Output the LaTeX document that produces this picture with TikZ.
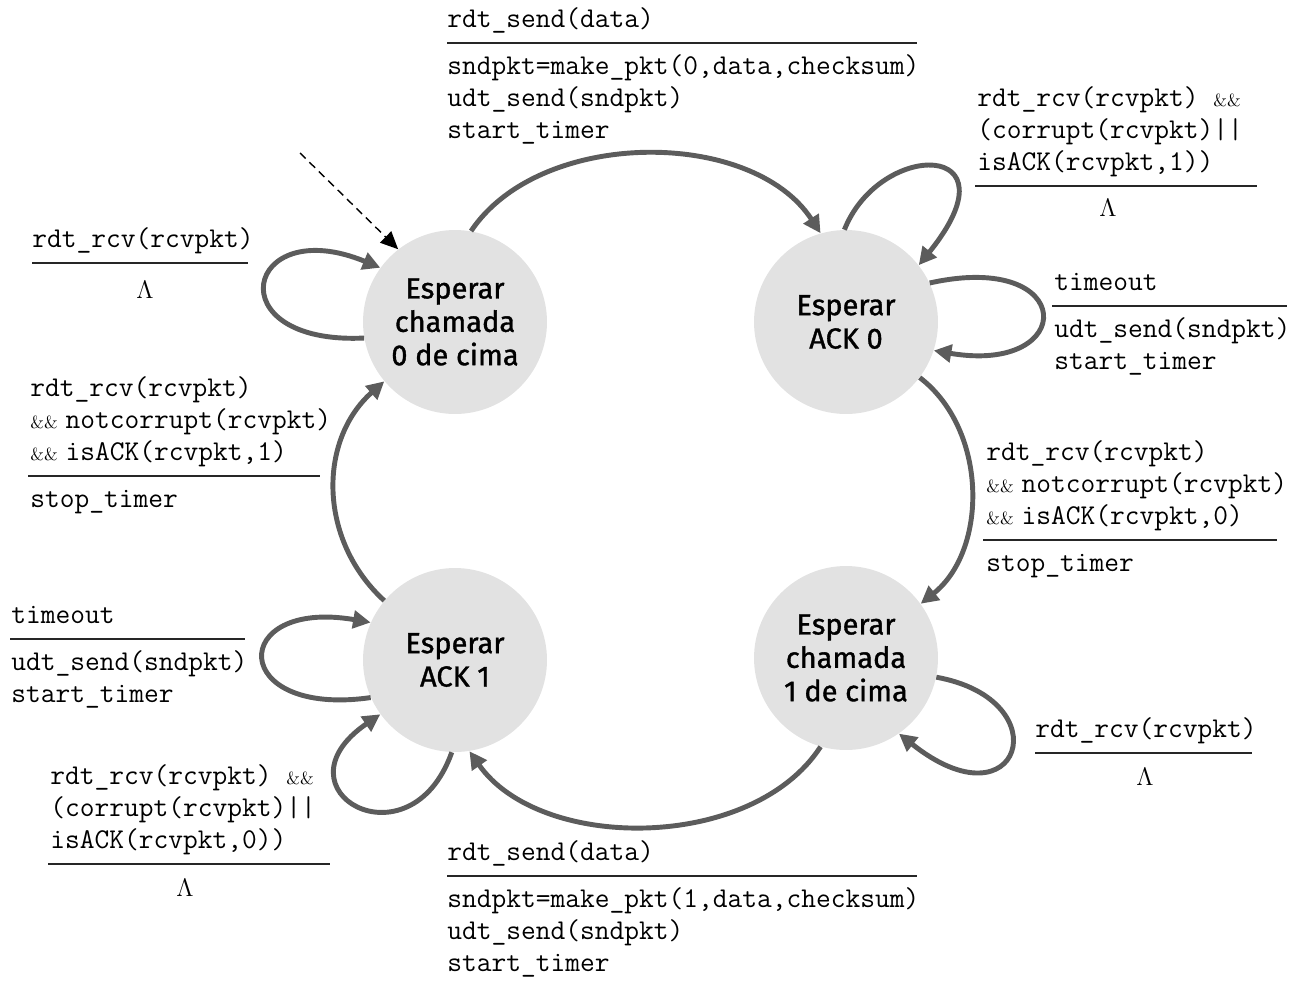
\documentclass[tikz,border=0pt]{standalone}
\usepackage{fontspec}
\usetikzlibrary{arrows.meta}
\newfontfamily\codefont{Latin Modern Mono}
\newfontfamily\statefont{Fira Sans}[FakeBold=1.2]
\definecolor{statefill}{HTML}{E2E2E2}
\definecolor{edgegray}{HTML}{5C5C5C}
\newcommand{\andand}{{\rmfamily\fontsize{10pt}{12pt}\selectfont\&\&}}
\newcommand{\andpre}{\andand\hspace{4.5pt}}
\begin{document}
\begin{tikzpicture}[x=0.02cm,y=-0.02cm,
  state/.style={circle,fill=statefill,minimum size=3.68cm,inner sep=0pt,
    align=center,font=\statefont\fontsize{16.5pt}{19pt}\selectfont},
  trans/.style={draw=edgegray,line width=2.8pt,
    -{Triangle[length=10pt,width=10pt]}},
  initarrow/.style={draw=black,line width=0.8pt,dash pattern=on 4.5pt off 3pt,
    -{Triangle[length=10pt,width=9pt]}},
  event/.style={anchor=south west,inner xsep=0pt,inner ysep=3pt,align=left,
    font=\codefont\fontsize{16.3pt}{18.2pt}\selectfont},
  action/.style={anchor=north west,inner xsep=0pt,inner ysep=4.8pt,align=left,
    font=\codefont\fontsize{16.3pt}{18.2pt}\selectfont},
  rule/.style={draw=black!85,line width=0.85pt},
  nothing/.style={font=\fontsize{15pt}{18pt}\selectfont,inner sep=0pt}
]
\useasboundingbox (0,0) rectangle (1293,980);

% states
\node[state] (w0) at (455,322) {Esperar\\chamada\\0 de cima};
\node[state] (a0) at (846,322) {Esperar\\ACK 0};
\node[state] (a1) at (455,660) {Esperar\\ACK 1};
\node[state] (w1) at (846,658) {Esperar\\chamada\\1 de cima};

% initial transition
\coordinate (init) at (300,153);
\draw[initarrow] (init) -- (w0.128);

% main cycle
\draw[trans] (w0.80) .. controls (540,128) and (752,128) .. (a0.106);
\draw[trans] (a0.-37) .. controls (988,430) and (988,550) .. (w1.36);
\draw[trans] (w1.254) .. controls (752,852) and (540,852) .. (a1.279);
\draw[trans] (a1.140) .. controls (318,540) and (318,440) .. (w0.220);

% self loops
\draw[trans] (w0.190) .. controls (215,345) and (245,212) .. (w0.144);
\draw[trans] (a0.91) .. controls (880,140) and (1020,140) .. (a0.38);
\draw[trans] (a0.25) .. controls (1078,250) and (1078,375) .. (a0.-18);
\draw[trans] (a1.204) .. controls (228,718) and (228,598) .. (a1.156);
\draw[trans] (a1.268) .. controls (410,870) and (270,790) .. (a1.216);
\draw[trans] (w1.-12) .. controls (1062,700) and (1020,830) .. (w1.-55);

% label: w0 -> a0
\coordinate (l1) at (447,43); \coordinate (l1e) at (917,43);
\draw[rule] (l1) -- (l1e);
\node[event] (e1) at (l1) {\strut rdt\_send(data)};
\node[action] (c1) at (l1) {\strut sndpkt=make\_pkt(0,data,checksum)\\\strut udt\_send(sndpkt)\\\strut start\_timer};

% label: a0 top loop
\coordinate (l2) at (975,186); \coordinate (l2e) at (1257,186);
\draw[rule] (l2) -- (l2e);
\node[event] (e2) at (977,186) {\strut rdt\_rcv(rcvpkt) \andand\\\strut (corrupt(rcvpkt)||\\\strut isACK(rcvpkt,1))};
\node[nothing] (n2) at (1108,208) {$\Lambda$};

% label: a0 timeout loop
\coordinate (l3) at (1052,306); \coordinate (l3e) at (1287,306);
\draw[rule] (l3) -- (l3e);
\node[event] (e3) at (1054,306) {\strut timeout};
\node[action] (c3) at (1054,306) {\strut udt\_send(sndpkt)\\\strut start\_timer};

% label: a0 -> w1
\coordinate (l4) at (983,540); \coordinate (l4e) at (1277,540);
\draw[rule] (l4) -- (l4e);
\node[event] (e4) at (986,540) {\strut rdt\_rcv(rcvpkt)\\\strut \andpre notcorrupt(rcvpkt)\\\strut \andpre isACK(rcvpkt,0)};
\node[action] (c4) at (986,540) {\strut stop\_timer};

% label: w1 loop
\coordinate (l5) at (1035,753); \coordinate (l5e) at (1252,753);
\draw[rule] (l5) -- (l5e);
\node[event] (e5) at (l5) {\strut rdt\_rcv(rcvpkt)};
\node[nothing] (n5) at (1145,777) {$\Lambda$};

% label: w1 -> a1
\coordinate (l6) at (447,876); \coordinate (l6e) at (917,876);
\draw[rule] (l6) -- (l6e);
\node[event] (e6) at (l6) {\strut rdt\_send(data)};
\node[action] (c6) at (l6) {\strut sndpkt=make\_pkt(1,data,checksum)\\\strut udt\_send(sndpkt)\\\strut start\_timer};

% label: w0 loop
\coordinate (l7) at (32,263); \coordinate (l7e) at (248,263);
\draw[rule] (l7) -- (l7e);
\node[event] (e7) at (l7) {\strut rdt\_rcv(rcvpkt)};
\node[nothing] (n7) at (145,290) {$\Lambda$};

% label: a1 -> w0
\coordinate (l8) at (28,476); \coordinate (l8e) at (320,476);
\draw[rule] (l8) -- (l8e);
\node[event] (e8) at (30,476) {\strut rdt\_rcv(rcvpkt)\\\strut \andpre notcorrupt(rcvpkt)\\\strut \andpre isACK(rcvpkt,1)};
\node[action] (c8) at (30,476) {\strut stop\_timer};

% label: a1 timeout loop
\coordinate (l9) at (10,639); \coordinate (l9e) at (245,639);
\draw[rule] (l9) -- (l9e);
\node[event] (e9) at (11,639) {\strut timeout};
\node[action] (c9) at (11,639) {\strut udt\_send(sndpkt)\\\strut start\_timer};

% label: a1 bottom loop
\coordinate (l10) at (48,864); \coordinate (l10e) at (330,864);
\draw[rule] (l10) -- (l10e);
\node[event] (e10) at (50,864) {\strut rdt\_rcv(rcvpkt) \andand\\\strut (corrupt(rcvpkt)||\\\strut isACK(rcvpkt,0))};
\node[nothing] (n10) at (185,888) {$\Lambda$};
\end{tikzpicture}
\end{document}
